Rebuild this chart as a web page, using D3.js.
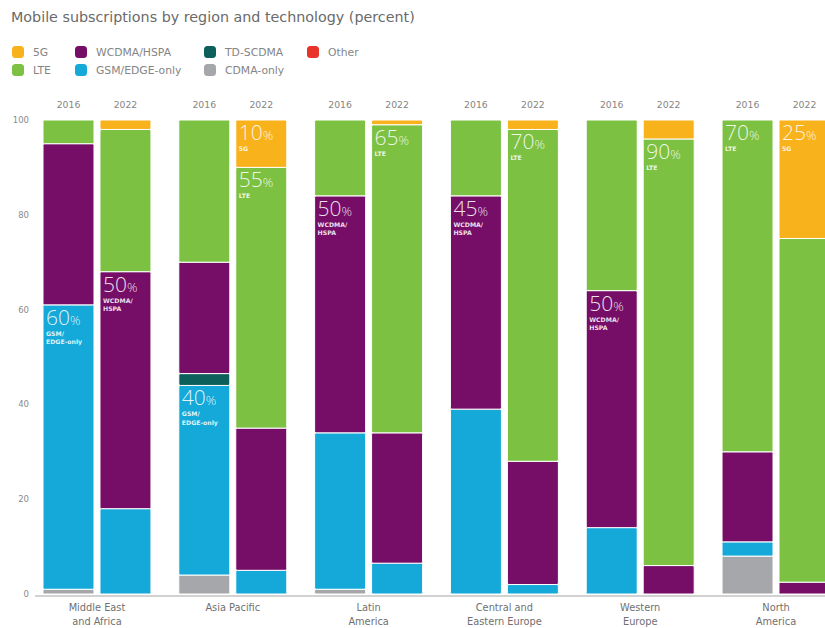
<!DOCTYPE html>
<html>
<head>
<meta charset="utf-8">
<script src="https://cdn.jsdelivr.net/npm/d3@7"></script>
<style>
  html, body { margin: 0; padding: 0; background: #fff; }
  svg { display: block; font-family: "DejaVu Sans", "Liberation Sans", Arial, sans-serif; }
</style>
</head>
<body>
<svg id="chart" width="825" height="628"></svg>
<script>
// Regions and years, one stacked bar per region/year
const regions = ["Middle East\nand Africa", "Asia Pacific", "Latin\nAmerica", "Central and\nEastern Europe", "Western\nEurope", "North\nAmerica"];
const years = ["2016", "2022"];

// Technology shares (percent), bar order: region by region, 2016 then 2022
const cdma    = [1, 0, 4, 0, 1, 0, 0, 0, 0, 0, 8, 0];
const gsm     = [60, 18, 40, 5, 33, 6.5, 39, 2, 14, 0, 3, 0];
const tdscdma = [0, 0, 2.5, 0, 0, 0, 0, 0, 0, 0, 0, 0];
const wcdma   = [34, 50, 23.5, 30, 50, 27.5, 45, 26, 50, 6, 19, 2.5];
const lte     = [5, 30, 30, 55, 16, 65, 16, 70, 36, 90, 70, 72.5];
const fiveG   = [0, 2, 0, 10, 0, 1, 0, 2, 0, 4, 0, 25];
const other   = [0, 0, 0, 0, 0, 0, 0, 0, 0, 0, 0, 0];

const yTicks = [0, 20, 40, 60, 80, 100];

// Series keys (stack order bottom to top), names and colours
const keys = ["cdma", "gsm", "tdscdma", "wcdma", "lte", "fiveG", "other"];
const seriesData = { cdma, gsm, tdscdma, wcdma, lte, fiveG, other };
const names = { fiveG: "5G", lte: "LTE", wcdma: "WCDMA/HSPA", gsm: "GSM/EDGE-only", tdscdma: "TD-SCDMA", cdma: "CDMA-only", other: "Other" };
const colors = { fiveG: "#f8b21c", lte: "#7cc142", wcdma: "#760e68", gsm: "#14a9d8", tdscdma: "#0d5f5c", cdma: "#a6a7aa", other: "#e8322a" };

// Annotated segments: [bar index, series key, caption]
const callouts = [
  [0, "gsm", "GSM/\nEDGE-only"],
  [1, "wcdma", "WCDMA/\nHSPA"],
  [2, "gsm", "GSM/\nEDGE-only"],
  [3, "fiveG", "5G"],
  [3, "lte", "LTE"],
  [4, "wcdma", "WCDMA/\nHSPA"],
  [5, "lte", "LTE"],
  [6, "wcdma", "WCDMA/\nHSPA"],
  [7, "lte", "LTE"],
  [8, "wcdma", "WCDMA/\nHSPA"],
  [9, "lte", "LTE"],
  [10, "lte", "LTE"],
  [11, "fiveG", "5G"]
];

// Build one row per bar
const rows = [];
regions.forEach((r, ri) => years.forEach((y, yi) => {
  const i = ri * 2 + yi;
  const row = { region: r, year: y, idx: i };
  keys.forEach(k => row[k] = seriesData[k][i]);
  rows.push(row);
}));

const stacked = d3.stack().keys(keys)(rows);

const svg = d3.select("#chart");

const x0 = d3.scaleBand().domain(regions).range([43, 830]).paddingInner(0.205).paddingOuter(0);
const x1 = d3.scaleBand().domain(years).range([0, x0.bandwidth()]).paddingInner(0.105).paddingOuter(0);
const y = d3.scaleLinear().domain([0, 100]).range([594, 120]);

// Title
svg.append("text").attr("x", 11).attr("y", 22)
  .attr("font-size", 14.3).attr("fill", "#6a6a6a")
  .text("Mobile subscriptions by region and technology (percent)");

// Legend
const legendItems = [
  ["fiveG", 12, 52], ["lte", 12, 70],
  ["wcdma", 75, 52], ["gsm", 75, 70],
  ["tdscdma", 204, 52], ["cdma", 204, 70],
  ["other", 307, 52]
];
const lg = svg.append("g");
legendItems.forEach(([k, lx, ly]) => {
  lg.append("rect").attr("x", lx).attr("y", ly - 6).attr("width", 12).attr("height", 12)
    .attr("rx", 3.5).attr("fill", colors[k]);
  lg.append("text").attr("x", lx + 21).attr("y", ly + 4)
    .attr("font-size", 10.8).attr("fill", "#858585").text(names[k]);
});

// Y axis tick labels
svg.append("g").selectAll("text").data(yTicks).join("text")
  .attr("x", 29).attr("y", d => y(d) + 3)
  .attr("text-anchor", "end").attr("font-size", 8.5).attr("fill", "#8a8a8a")
  .text(d => d);

// Bars
const barX = d => x0(d.data.region) + x1(d.data.year);
svg.append("g").selectAll("g").data(stacked).join("g")
  .attr("fill", s => colors[s.key])
  .selectAll("rect").data(s => s.filter(d => d[1] - d[0] > 0)).join("rect")
  .attr("x", d => barX(d))
  .attr("width", x1.bandwidth())
  .attr("y", d => y(d[1]))
  .attr("height", d => y(d[0]) - y(d[1]))
  .attr("rx", 1.5)
  .attr("stroke", "#fff").attr("stroke-width", 1);

// Baseline
svg.append("line").attr("x1", 35).attr("x2", 825).attr("y1", 596).attr("y2", 596)
  .attr("stroke", "#a5a5a5").attr("stroke-width", 1);

// Year labels above each bar
svg.append("g").selectAll("text").data(rows).join("text")
  .attr("x", d => x0(d.region) + x1(d.year) + x1.bandwidth() / 2)
  .attr("y", 108).attr("text-anchor", "middle")
  .attr("font-size", 9.3).attr("fill", "#858585").text(d => d.year);

// Region labels
const cat = svg.append("g").selectAll("text").data(regions).join("text")
  .attr("x", d => x0(d) + x0.bandwidth() / 2)
  .attr("text-anchor", "middle").attr("font-size", 9.8).attr("fill", "#707070");
cat.selectAll("tspan").data(d => d.split("\n")).join("tspan")
  .attr("x", function() { return this.parentNode.getAttribute("x"); })
  .attr("y", (d, i) => 611 + i * 14)
  .text(d => d);

// Value call-outs inside segments
const cg = svg.append("g").attr("fill", "#fff").attr("fill-opacity", 0.88);
callouts.forEach(([i, key, caption]) => {
  const s = stacked.find(s => s.key === key);
  const d = s[i];
  const bx = barX(d) + 3;
  const top = y(d[1]);
  const t = cg.append("text").attr("x", bx).attr("y", top + 20)
    .attr("font-family", "'Open Sans', Lato, sans-serif").attr("font-weight", 300);
  t.append("tspan").attr("font-size", 21).text(seriesData[key][i]);
  t.append("tspan").attr("font-size", 13).text("%");
  caption.split("\n").forEach((line, li) => {
    cg.append("text").attr("x", bx).attr("y", top + 31 + li * 8.5)
      .attr("font-size", 6.2).attr("font-weight", "bold").text(line);
  });
});
</script>
</body>
</html>
